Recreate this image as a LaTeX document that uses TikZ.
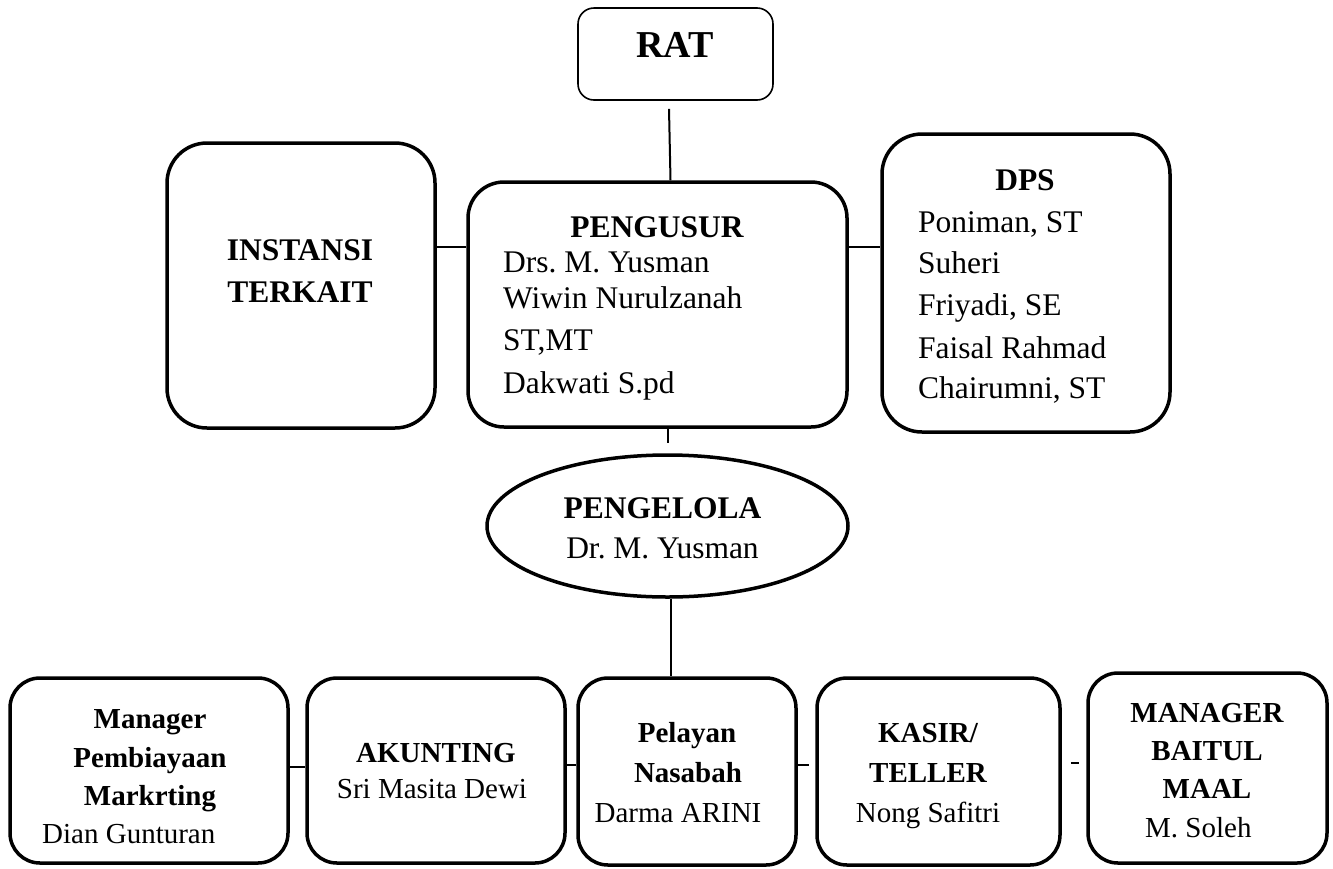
\documentclass[tikz,border=0pt]{standalone}
\usepackage{fontspec}
\setmainfont{Liberation Serif}
\usetikzlibrary{shapes.geometric}
\frenchspacing
\tikzset{
  obox/.style={draw, line width=3.5pt, rounded corners=36pt, inner sep=0pt},
  bbox/.style={draw, line width=3.5pt, rounded corners=30pt, inner sep=0pt},
  conn/.style={line width=2pt},
  tc/.style={inner sep=0pt, anchor=base, font=\fontsize{31.5}{38}\selectfont},
  tcb/.style={inner sep=0pt, anchor=base, font=\fontsize{31.5}{38}\selectfont\bfseries},
  tl/.style={inner sep=0pt, anchor=base west, font=\fontsize{31.5}{38}\selectfont},
  bc/.style={inner sep=0pt, anchor=base, font=\fontsize{29}{35}\selectfont},
  bcb/.style={inner sep=0pt, anchor=base, font=\fontsize{29}{35}\selectfont\bfseries},
  bl/.style={inner sep=0pt, anchor=base west, font=\fontsize{29}{35}\selectfont},
}
\begin{document}
\begin{tikzpicture}[x=1pt,y=-1pt]
\useasboundingbox (0,0) rectangle (1333,868);
% boxes
\node[draw, line width=1.6pt, rounded corners=16pt, inner sep=0pt, minimum width=195pt, minimum height=92pt] (rat) at (675.5,54) {};
\node[obox, minimum width=379pt, minimum height=245pt] (peng) at (657.5,304.5) {};
\node[obox, rounded corners=40pt, minimum width=268pt, minimum height=285pt] (inst) at (301,285.5) {};
\node[obox, rounded corners=40pt, minimum width=288pt, minimum height=298pt] (dps) at (1026,283) {};
\node[ellipse, draw, line width=3.5pt, inner sep=0pt, minimum width=361pt, minimum height=142pt] (pengel) at (667.5,526) {};
\node[bbox, minimum width=278pt, minimum height=185pt] (b1) at (149,770.5) {};
\node[bbox, minimum width=258pt, minimum height=185pt] (b2) at (436,770.5) {};
\node[bbox, minimum width=218pt, minimum height=187pt] (b3) at (687,771.5) {};
\node[bbox, minimum width=243pt, minimum height=187pt] (b4) at (938.5,771.5) {};
\node[bbox, minimum width=239pt, minimum height=190pt] (b5) at (1207.5,768) {};
% texts
\node[tcb, font=\fontsize{38}{44}\selectfont\bfseries] (ratT) at (675,57) {RAT};
\node[tcb] (pengT) at (657,237) {PENGUSUR};
\node[tl] (pengA) at (503,272) {Drs. M. Yusman};
\node[tl] (pengB) at (503,308) {Wiwin Nurulzanah};
\node[tl] (pengC) at (503,350) {ST,MT};
\node[tl] (pengD) at (503,393) {Dakwati S.pd};
\node[tcb] (instA) at (300,260) {INSTANSI};
\node[tcb] (instB) at (300,302) {TERKAIT};
\node[tcb] (dpsT) at (1025,190) {DPS};
\node[tl] (dpsA) at (918,232) {Poniman, ST};
\node[tl] (dpsB) at (918,273) {Suheri};
\node[tl] (dpsC) at (918,315) {Friyadi, SE};
\node[tl] (dpsD) at (918,358) {Faisal Rahmad};
\node[tl] (dpsE) at (918,398) {Chairumni, ST};
\node[tcb] (pengelT) at (662.5,518) {PENGELOLA};
\node[tc] (pengelA) at (662.5,558) {Dr. M. Yusman};
\node[bcb] (b1A) at (150,728) {Manager};
\node[bcb] (b1B) at (150,767) {Pembiayaan};
\node[bcb] (b1C) at (150,805) {Markrting};
\node[bl] (b1D) at (42,843) {Dian Gunturan};
\node[bcb] (b2A) at (436,762) {AKUNTING};
\node[bc] (b2B) at (432,798) {Sri Masita Dewi};
\node[bcb] (b3A) at (687,742) {Pelayan};
\node[bcb] (b3B) at (688,782) {Nasabah};
\node[bc] (b3C) at (678,822) {Darma ARINI};
\node[bcb] (b4A) at (928,742) {KASIR/};
\node[bcb] (b4B) at (928,782) {TELLER};
\node[bc] (b4C) at (928,822) {Nong Safitri};
\node[bcb] (b5A) at (1207,722) {MANAGER};
\node[bcb] (b5B) at (1207,760) {BAITUL};
\node[bcb] (b5C) at (1207,798) {MAAL};
\node[bl] (b5D) at (1145,837) {M. Soleh};
% connectors
\draw[conn] ([xshift=-6.5pt,yshift=-8pt]rat.south) -- ([xshift=13pt]peng.north);
\draw[conn] ([yshift=38.5pt]inst.east) -- ([yshift=38.5pt]inst.east -| peng.west);
\draw[conn] ([yshift=57.5pt]peng.east) -- ([yshift=57.5pt]peng.east -| dps.west);
\draw[conn] ([xshift=10pt]peng.south) -- ([yshift=10pt]pengel.north);
\draw[conn] ([xshift=3.5pt]pengel.south) -- ([xshift=-16pt]b3.north);
\draw[conn] ([yshift=3.5pt]b1.east) -- ([yshift=3.5pt]b1.east -| b2.west);
\draw[conn] ([yshift=5.5pt]b2.east) -- ([yshift=5.5pt]b2.east -| b3.west);
\draw[conn, shorten >=6pt] ([yshift=6.5pt]b3.east) -- ([yshift=6.5pt]b3.east -| b4.west);
\draw[conn, shorten <=9pt, shorten >=7pt] ([yshift=8.5pt]b4.east) -- ([yshift=8.5pt]b4.east -| b5.west);
\end{tikzpicture}
\end{document}
